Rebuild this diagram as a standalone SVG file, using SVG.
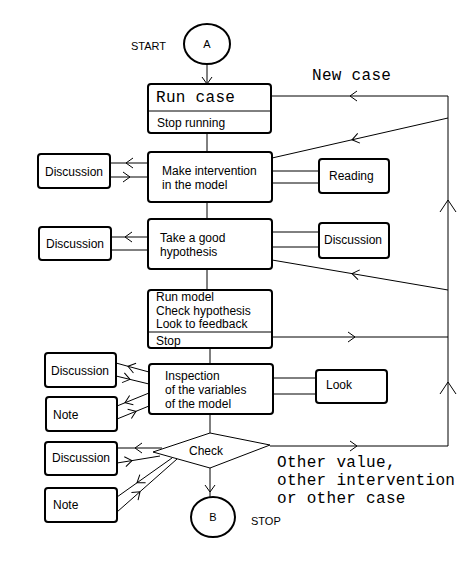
<svg xmlns="http://www.w3.org/2000/svg" width="462" height="561" viewBox="0 0 462 561">
<style>
.box{fill:#fff;stroke:#000;stroke-width:2}
.ln{fill:none;stroke:#000;stroke-width:1}
.t{font-family:"Liberation Sans",Arial,sans-serif;font-size:12px;fill:#000}
.ts{font-family:"Liberation Sans",Arial,sans-serif;font-size:11px;fill:#000}
.m{font-family:"Liberation Mono","Courier New",monospace;font-size:16px;letter-spacing:0.3px;fill:#000}
</style>
<defs>
<marker id="ah" viewBox="-10 -8 12 16" markerWidth="12" markerHeight="16" refX="0" refY="0" orient="auto" markerUnits="userSpaceOnUse">
<path d="M-7,-5 L0,0 L-7,5" fill="none" stroke="#000" stroke-width="1"/>
</marker>
<marker id="ahL" viewBox="-14 -10 16 20" markerWidth="16" markerHeight="20" refX="0" refY="0" orient="auto" markerUnits="userSpaceOnUse">
<path d="M-12,-8 L0,0 L-12,8" fill="none" stroke="#000" stroke-width="1"/>
</marker>
</defs>
<rect width="462" height="561" fill="#fff"/>

<g id="connectors">
<path class="ln" d="M207,64 L207,84" marker-end="url(#ah)"/>
<path class="ln" d="M207,133 L207,152"/>
<path class="ln" d="M207,202 L207,219"/>
<path class="ln" d="M207,269 L207,290"/>
<path class="ln" d="M210,348 L210,364"/>
<path class="ln" d="M210,414 L210,433"/>
<path class="ln" d="M210,468 L210,492 L210,497" marker-mid="url(#ah)"/>
<path class="ln" d="M448,96 L350,96 L271,96" marker-mid="url(#ah)"/>
<path class="ln" d="M448,446 L448,382 L448,200 L448,96" marker-mid="url(#ahL)"/>
<path class="ln" d="M448,118 L352,139.8 L272,158" marker-mid="url(#ah)"/>
<path class="ln" d="M448,290 L352,273.6 L272,260" marker-mid="url(#ah)"/>
<path class="ln" d="M272,337 L355,337 L448,337" marker-mid="url(#ah)"/>
<path class="ln" d="M270,446 L357,446 L448,446" marker-mid="url(#ah)"/>
<path class="ln" d="M148,163 L126,163 L110,163" marker-mid="url(#ah)"/>
<path class="ln" d="M110,177 L130,177 L148,177" marker-mid="url(#ah)"/>
<path class="ln" d="M148,237 L125,237 L111,237" marker-mid="url(#ah)"/>
<path class="ln" d="M111,250 L148,250"/>
<path class="ln" d="M149,372 L128,366.3 L116,363" marker-mid="url(#ah)"/>
<path class="ln" d="M116,376 L130,379.4 L149,384" marker-mid="url(#ah)"/>
<path class="ln" d="M149,393 L125,402.75 L117,406" marker-mid="url(#ah)"/>
<path class="ln" d="M117,419 L136,411.3 L149,406" marker-mid="url(#ah)"/>
<path class="ln" d="M162,448 L135,448 L117,448" marker-mid="url(#ah)"/>
<path class="ln" d="M117,463 L132,460.6 L160,456" marker-mid="url(#ah)"/>
<path class="ln" d="M172,458 L137,482.8 L117,497" marker-mid="url(#ah)"/>
<path class="ln" d="M117,512 L140,491.7 L177,459" marker-mid="url(#ah)"/>
<path class="ln" d="M272,171 L319,171 M272,183 L319,183"/>
<path class="ln" d="M272,232 L319,232 M272,247 L319,247"/>
<path class="ln" d="M273,378 L316,378 M273,394 L316,394"/>
</g>

<g id="start">
<ellipse cx="207" cy="44" rx="23" ry="20" class="box"/>
<text x="207" y="48" class="ts" text-anchor="middle">A</text>
<text x="131" y="50" class="ts">START</text>
</g>

<g id="run-case">
<rect x="148" y="84" width="123" height="49" rx="3" class="box"/>
<line x1="148" y1="111" x2="271" y2="111" class="ln"/>
<text x="156" y="102" class="m">Run case</text>
<text x="157" y="127" class="t">Stop running</text>
</g>

<text x="312" y="80" class="m">New case</text>

<g id="make-intervention">
<rect x="148" y="152" width="124" height="50" rx="3" class="box"/>
<text x="162" y="175" class="t">Make intervention</text>
<text x="162" y="189" class="t">in the model</text>
</g>

<g id="discussion-1">
<rect x="38" y="154" width="72" height="34" rx="3" class="box"/>
<text x="45" y="176" class="t">Discussion</text>
</g>

<g id="reading">
<rect x="319" y="159" width="70" height="34" rx="3" class="box"/>
<text x="329" y="180" class="t">Reading</text>
</g>

<g id="take-hypothesis">
<rect x="148" y="219" width="124" height="50" rx="3" class="box"/>
<text x="160" y="242" class="t">Take a good</text>
<text x="160" y="256" class="t">hypothesis</text>
</g>

<g id="discussion-2">
<rect x="39" y="227" width="72" height="33" rx="3" class="box"/>
<text x="46" y="248" class="t">Discussion</text>
</g>

<g id="discussion-3">
<rect x="319" y="223" width="70" height="35" rx="3" class="box"/>
<text x="324" y="244" class="t">Discussion</text>
</g>

<g id="run-model">
<rect x="148" y="290" width="124" height="58" rx="3" class="box"/>
<line x1="148" y1="332" x2="272" y2="332" class="ln"/>
<text x="156" y="301" class="t">Run model</text>
<text x="156" y="315" class="t">Check hypothesis</text>
<text x="156" y="328" class="t">Look to feedback</text>
<text x="156" y="345" class="t">Stop</text>
</g>

<g id="inspection">
<rect x="149" y="364" width="124" height="50" rx="3" class="box"/>
<text x="165" y="380" class="t">Inspection</text>
<text x="165" y="394" class="t">of the variables</text>
<text x="165" y="408" class="t">of the model</text>
</g>

<g id="discussion-4">
<rect x="45" y="353" width="71" height="34" rx="3" class="box"/>
<text x="51" y="375" class="t">Discussion</text>
</g>

<g id="note-1">
<rect x="46" y="397" width="71" height="34" rx="3" class="box"/>
<text x="53" y="419" class="t">Note</text>
</g>

<g id="look">
<rect x="316" y="370" width="71" height="33" rx="3" class="box"/>
<text x="326" y="389" class="t">Look</text>
</g>

<g id="check">
<polygon points="210,433 270,445 210,468 153,452" fill="#fff" stroke="#000" stroke-width="1"/>
<text x="189" y="455" class="t">Check</text>
</g>

<g id="discussion-5">
<rect x="45" y="442" width="72" height="33" rx="3" class="box"/>
<text x="52" y="462" class="t">Discussion</text>
</g>

<g id="note-2">
<rect x="45" y="488" width="72" height="34" rx="3" class="box"/>
<text x="53" y="509" class="t">Note</text>
</g>

<text x="277" y="467" class="m">Other value,</text>
<text x="277" y="485" class="m">other intervention</text>
<text x="277" y="503" class="m">or other case</text>

<g id="stop">
<ellipse cx="213" cy="517" rx="22" ry="20" class="box"/>
<text x="213" y="521" class="ts" text-anchor="middle">B</text>
<text x="251" y="525" class="ts">STOP</text>
</g>
</svg>
